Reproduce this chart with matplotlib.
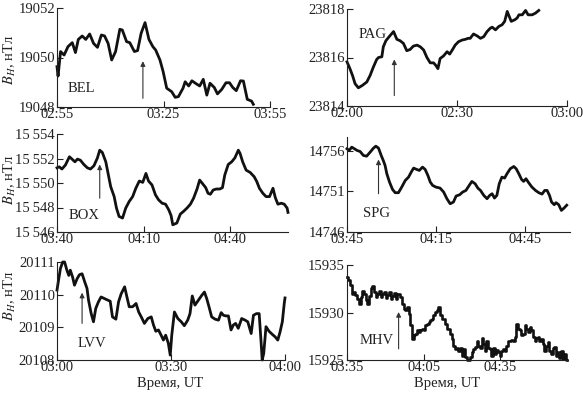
import matplotlib
matplotlib.use('Agg')
import matplotlib.pyplot as plt

plt.rcParams['font.family'] = ['Liberation Serif', 'DejaVu Serif']
plt.rcParams['mathtext.fontset'] = 'stix'

# --- data: minutes from the left edge of each panel, B_H in nT ---
bel_t = [0, 0.3, 1.0, 2.0, 3.1, 4.3, 5.2, 6.0, 7.1, 8.1, 9.2, 10.3, 11.4, 12.5, 13.4, 14.4,
         15.4, 16.5, 17.7, 18.4, 19.6, 20.5, 21.8, 22.7, 23.7, 24.8, 25.9, 27.0, 27.8, 29.0,
         29.9, 30.9, 32.3, 33.3, 34.2, 35.5, 36.1, 37.1, 38.0, 39.3, 40.2, 41.2, 42.2, 43.1,
         44.3, 45.2, 46.4, 47.6, 48.6, 49.5, 50.5, 51.7, 52.5, 53.6, 54.8, 55.3]
bel_v = [19049.63, 19049.25, 19050.24, 19050.10, 19050.44, 19050.60, 19050.20, 19050.73,
         19050.87, 19050.73, 19050.95, 19050.57, 19050.41, 19050.91, 19050.87, 19050.57,
         19049.90, 19050.24, 19051.14, 19051.11, 19050.64, 19050.60, 19050.24, 19050.28,
         19050.98, 19051.41, 19050.73, 19050.44, 19050.30, 19049.90, 19049.43, 19048.76,
         19048.62, 19048.39, 19048.42, 19048.76, 19049.02, 19048.85, 19049.06, 19048.93,
         19048.85, 19049.12, 19048.48, 19048.96, 19048.79, 19048.53, 19048.71, 19048.98,
         19048.98, 19048.79, 19048.66, 19049.06, 19049.05, 19048.31, 19048.24, 19048.11]

pag_t = [0, 0.8, 1.5, 2.2, 3.1, 4.2, 5.4, 6.3, 7.2, 8.1, 8.6, 9.5, 9.9, 10.6, 11.5, 12.7,
         13.6, 14.5, 15.4, 16.3, 17.2, 18.1, 19.1, 20.0, 20.9, 21.8, 22.7, 23.6, 24.2, 24.8,
         25.4, 26.3, 27.3, 28.0, 28.8, 29.5, 30.4, 31.4, 32.3, 33.0, 33.6, 34.5, 35.5, 36.4,
         37.3, 38.2, 39.1, 39.6, 40.5, 41.4, 42.3, 43.0, 43.7, 44.3, 44.8, 45.8, 46.4, 46.9,
         47.8, 48.7, 49.4, 50.5, 51.4, 52.3]
pag_v = [23815.82, 23815.54, 23815.26, 23814.92, 23814.75, 23814.85, 23814.99, 23815.26,
         23815.61, 23815.92, 23816.00, 23816.03, 23816.44, 23816.69, 23816.86, 23817.07,
         23816.75, 23816.69, 23816.58, 23816.28, 23816.33, 23816.47, 23816.51, 23816.44,
         23816.31, 23816.00, 23815.78, 23815.78, 23815.68, 23815.54, 23815.96, 23816.06,
         23816.24, 23816.14, 23816.33, 23816.51, 23816.65, 23816.72, 23816.75, 23816.79,
         23816.79, 23816.97, 23816.89, 23816.79, 23816.86, 23817.07, 23817.21, 23817.25,
         23817.14, 23817.28, 23817.35, 23817.49, 23817.90, 23817.67, 23817.49, 23817.56,
         23817.63, 23817.76, 23817.76, 23817.94, 23817.76, 23817.76, 23817.83, 23817.94]

box_t = [0, 0.8, 1.7, 2.9, 4.3, 5.2, 6.2, 7.1, 8.1, 9.3, 10.5, 11.6, 12.8, 14.0, 14.8, 15.7,
         16.9, 17.8, 18.6, 19.8, 20.6, 21.5, 22.7, 23.8, 25.0, 26.2, 27.3, 28.5, 29.7, 30.8,
         31.7, 32.9, 34.1, 35.2, 36.4, 37.6, 38.7, 39.5, 40.1, 41.5, 42.7, 43.8, 45.0, 46.2,
         47.3, 48.5, 49.4, 50.6, 51.5, 52.3, 53.1, 54.1, 55.2, 56.4, 57.3, 58.1, 59.3, 60.5,
         61.6, 62.8, 63.4, 64.3, 65.5, 66.9, 68.3, 69.2, 70.1, 71.3, 72.4, 73.6, 74.8, 75.6,
         76.5, 77.7, 78.7, 79.7, 80.0]
box_v = [15551.24, 15551.32, 15551.14, 15551.46, 15552.14, 15551.95, 15551.73, 15551.95,
         15551.86, 15551.51, 15551.24, 15551.14, 15551.41, 15552.05, 15552.68, 15552.49,
         15551.73, 15550.65, 15549.70, 15548.89, 15547.95, 15547.27, 15547.14, 15547.95,
         15548.49, 15548.89, 15549.57, 15550.16, 15550.05, 15550.78, 15550.16, 15549.84,
         15549.03, 15548.62, 15548.35, 15548.27, 15547.81, 15547.35, 15546.59, 15546.73,
         15547.46, 15547.68, 15547.95, 15548.27, 15548.76, 15549.51, 15550.24, 15549.89,
         15549.62, 15549.16, 15549.08, 15549.43, 15549.51, 15549.51, 15549.62, 15550.65,
         15551.51, 15551.73, 15552.05, 15552.68, 15552.41, 15551.73, 15551.05, 15550.86,
         15550.51, 15550.11, 15549.57, 15549.16, 15548.89, 15548.89, 15549.57, 15548.81,
         15548.27, 15548.35, 15548.27, 15547.95, 15547.60]

spg_t = [0, 0.7, 1.6, 2.5, 3.4, 4.4, 5.5, 6.6, 7.8, 8.9, 9.7, 10.6, 11.5, 12.2, 12.8, 13.4,
         14.3, 15.3, 16.2, 17.3, 18.4, 19.6, 20.7, 21.6, 22.4, 23.5, 24.3, 25.4, 26.3, 27.2,
         28.0, 28.8, 29.9, 31.3, 32.5, 33.6, 34.7, 35.8, 36.7, 37.9, 38.9, 40.0, 41.1, 42.0,
         43.1, 44.0, 44.9, 46.0, 47.1, 48.0, 48.8, 49.6, 50.4, 51.2, 52.1, 53.0, 53.8, 54.9,
         56.1, 56.9, 57.8, 58.7, 59.4, 60.2, 61.1, 62.2, 63.4, 64.5, 65.6, 66.5, 67.3, 68.1,
         68.8, 69.7, 70.3, 71.2, 72.1, 73.0, 73.9]
spg_v = [14756.25, 14756.04, 14756.45, 14756.25, 14756.04, 14755.92, 14755.43, 14755.34,
         14755.84, 14756.33, 14756.57, 14756.33, 14755.43, 14754.81, 14754.20, 14753.17,
         14752.15, 14751.25, 14750.84, 14750.84, 14751.53, 14752.35, 14752.76, 14753.38,
         14753.87, 14753.70, 14753.58, 14753.99, 14753.70, 14752.97, 14752.15, 14751.74,
         14751.53, 14751.41, 14750.92, 14750.10, 14749.48, 14749.69, 14750.43, 14750.59,
         14750.92, 14751.12, 14751.74, 14752.23, 14751.94, 14751.41, 14751.12, 14750.51,
         14750.10, 14750.51, 14750.71, 14750.18, 14750.51, 14751.94, 14752.76, 14752.64,
         14753.17, 14753.79, 14754.07, 14753.79, 14753.17, 14752.48, 14752.23, 14752.56,
         14752.07, 14751.53, 14751.12, 14750.84, 14750.67, 14751.12, 14751.12, 14750.51,
         14749.69, 14749.36, 14749.61, 14749.36, 14748.66, 14748.95, 14749.30]

lvv_t = [0, 0.4, 0.9, 1.5, 2.0, 2.6, 3.1, 3.5, 4.1, 4.6, 5.3, 5.9, 6.6, 7.3, 7.9, 8.3, 9.0,
         9.6, 10.2, 10.9, 11.6, 12.5, 13.4, 14.0, 14.6, 15.5, 16.2, 16.9, 17.8, 18.4, 19.0,
         19.9, 20.8, 21.5, 22.3, 23.0, 23.9, 24.8, 25.4, 26.0, 26.7, 27.4, 28.0, 28.6, 29.3,
         29.8, 30.2, 30.9, 31.8, 32.7, 33.5, 34.4, 35.0, 35.6, 36.3, 37.2, 38.1, 38.8, 39.4,
         40.0, 40.7, 41.6, 42.5, 43.2, 43.8, 44.4, 45.1, 45.8, 46.4, 47.0, 47.7, 48.6, 49.5,
         50.2, 51.1, 51.7, 52.5, 53.2, 53.7, 54.0, 54.4, 55.0, 55.8, 56.7, 57.4, 58.1, 58.7,
         59.3, 59.8, 60.0]
lvv_v = [20110.14, 20110.44, 20110.80, 20111.00, 20111.00, 20110.75, 20110.59, 20110.75,
         20110.54, 20110.29, 20110.49, 20110.61, 20110.64, 20110.39, 20110.19, 20109.83,
         20109.42, 20109.17, 20109.58, 20109.78, 20109.93, 20109.88, 20109.83, 20109.80,
         20109.32, 20109.25, 20109.78, 20110.03, 20110.24, 20109.93, 20109.63, 20109.63,
         20109.73, 20109.47, 20109.29, 20109.12, 20109.27, 20109.32, 20109.07, 20108.88,
         20108.92, 20108.76, 20108.61, 20108.76, 20108.51, 20108.15, 20108.76, 20109.47,
         20109.27, 20109.17, 20109.05, 20109.22, 20109.42, 20109.96, 20109.68, 20109.83,
         20109.98, 20110.08, 20109.88, 20109.63, 20109.32, 20109.25, 20109.22, 20109.45,
         20109.37, 20109.35, 20109.35, 20108.92, 20109.07, 20109.12, 20108.97, 20109.27,
         20109.22, 20109.17, 20108.81, 20109.37, 20109.42, 20109.42, 20108.56, 20108.00,
         20108.20, 20109.02, 20108.88, 20108.78, 20108.71, 20108.61, 20108.86, 20109.17,
         20109.73, 20109.90]

mhv_t = [0.0, 0.8, 1.6, 2.1, 2.8, 3.8, 4.4, 5.1, 5.7, 6.3, 7.0, 7.6, 8.3, 8.9, 9.6, 10.2,
         10.9, 11.5, 12.2, 12.8, 13.5, 14.1, 14.8, 15.4, 16.1, 16.7, 17.4, 18.0, 18.7, 19.3,
         19.9, 20.6, 21.2, 21.9, 22.5, 23.2, 23.8, 24.5, 25.1, 25.8, 26.4, 27.1, 27.7, 28.4,
         29.0, 29.7, 30.3, 31.0, 31.6, 32.3, 32.9, 33.5, 34.2, 34.8, 35.5, 36.1, 36.8, 37.4,
         38.1, 38.7, 39.4, 40.0, 40.7, 41.3, 42.0, 42.6, 43.3, 43.9, 44.6, 45.2, 45.9, 46.5,
         47.2, 47.8, 48.4, 49.1, 49.7, 50.4, 51.0, 51.7, 52.3, 53.0, 53.6, 54.3, 54.9, 55.6,
         56.2, 56.9, 57.5, 58.2, 58.8, 59.5, 60.1, 60.8, 61.4, 62.0, 62.7, 63.3, 64.0, 64.6,
         65.3, 65.9, 66.6, 67.2, 67.9, 68.5, 69.2, 69.8, 70.5, 71.1, 71.8, 72.4, 73.1, 73.7,
         74.4, 75.0, 75.6, 76.3, 76.9, 77.6, 78.2, 78.9, 79.5, 80.2, 80.8, 81.5, 82.1, 82.8,
         83.4, 84.1, 84.7, 85.4, 86.0]
mhv_v = [15933.76, 15933.41, 15932.88, 15932.00, 15932.17, 15931.82, 15931.47, 15930.94,
         15931.64, 15932.28, 15932.00, 15931.29, 15930.94, 15931.71, 15932.63, 15932.77,
         15932.17, 15931.64, 15932.00, 15932.28, 15931.64, 15932.00, 15932.17, 15931.57,
         15931.82, 15932.17, 15931.47, 15931.71, 15932.07, 15931.47, 15932.00, 15932.00,
         15931.64, 15930.94, 15930.41, 15930.23, 15930.58, 15929.88, 15928.64, 15927.23,
         15927.58, 15927.76, 15928.11, 15927.93, 15928.11, 15928.29, 15928.11, 15928.64,
         15928.82, 15928.99, 15929.24, 15929.35, 15929.70, 15930.05, 15930.23, 15930.58,
         15929.70, 15929.35, 15929.35, 15928.82, 15928.29, 15928.29, 15927.76, 15927.23,
         15926.52, 15926.17, 15926.27, 15925.99, 15926.27, 15925.46, 15926.17, 15925.28,
         15925.00, 15925.00, 15925.28, 15925.81, 15926.17, 15926.41, 15927.05, 15926.52,
         15926.27, 15927.33, 15926.70, 15925.92, 15927.05, 15926.27, 15926.17, 15925.46,
         15926.27, 15925.64, 15926.06, 15925.81, 15925.46, 15925.92, 15926.17, 15925.99,
         15926.52, 15927.05, 15926.98, 15927.12, 15927.05, 15927.40, 15928.82, 15928.29,
         15928.11, 15927.58, 15927.76, 15928.64, 15928.29, 15927.93, 15928.46, 15928.11,
         15927.40, 15927.05, 15927.33, 15927.47, 15926.98, 15927.23, 15926.70, 15925.99,
         15926.52, 15926.87, 15925.99, 15925.64, 15926.27, 15926.41, 15925.46, 15925.81,
         15925.21, 15925.99, 15925.11, 15925.64, 15925.00]

# tick labels
bel_xt = ['02:55', '03:25', '03:55']
pag_xt = ['02:00', '02:30', '03:00']
box_xt = ['03:40', '04:10', '04:40']
spg_xt = ['03:45', '04:15', '04:45']
lvv_xt = ['03:00', '03:30', '04:00']
mhv_xt = ['03:35', '04:05', '04:35']

fig = plt.figure(figsize=(5.83, 3.93), dpi=100)
W, H = 583.0, 393.0
FS = 10.5


def panel(box, t, v, xlim, ylim, xt, yticks, ylabels, name, name_xy, arrow, steps=False):
    x0, y0, x1, y1 = box
    ax = fig.add_axes([x0 / W, 1 - y1 / H, (x1 - x0) / W, (y1 - y0) / H])
    ax.plot(t, v, color='#111111', lw=1.9 if steps else 2.0, solid_joinstyle='round',
            clip_on=False, drawstyle='steps-mid' if steps else 'default')
    ax.set_xlim(*xlim)
    ax.set_ylim(*ylim)
    ax.set_xticks([0, 30, 60])
    ax.set_xticklabels(xt)
    ax.set_yticks(yticks)
    ax.set_yticklabels(ylabels)
    for s in ['top', 'right']:
        ax.spines[s].set_visible(False)
    for s in ['left', 'bottom']:
        ax.spines[s].set_linewidth(0.8)
        ax.spines[s].set_color('#222222')
    ax.tick_params(direction='in', length=4, width=0.8, labelsize=FS, pad=1.5,
                   colors='#222222')
    ax.tick_params(axis='x', pad=1.0)
    ax.text(name_xy[0], name_xy[1], name, fontsize=FS, va='center', ha='left',
            color='#222222')
    ax.annotate('', xy=(arrow[0], arrow[2]), xytext=(arrow[0], arrow[1]),
                arrowprops=dict(arrowstyle='-|>', lw=0.8, color='#333333',
                                mutation_scale=7, shrinkA=0, shrinkB=0))
    return ax


panel((57, 8, 270, 107), bel_t, bel_v, (0, 60), (19048, 19052), bel_xt,
      [19048, 19050, 19052], ['19048', '19050', '19052'],
      'BEL', (3.1, 19048.75), (24.2, 19048.35, 19049.85))
panel((347, 9, 567, 106), pag_t, pag_v, (0, 60), (23814, 23818), pag_xt,
      [23814, 23816, 23818], ['23814', '23816', '23818'],
      'PAG', (3.3, 23816.93), (12.9, 23814.43, 23815.92))
panel((57, 134, 288, 232), box_t, box_v, (0, 80), (15546, 15554), box_xt,
      [15546, 15548, 15550, 15552, 15554],
      ['15\u2009546', '15\u2009548', '15\u2009550', '15\u2009552', '15\u2009554'],
      'BOX', (4.1, 15547.35), (14.8, 15548.76, 15551.51))
panel((347, 137, 570, 232), spg_t, spg_v, (0, 75), (14746, 14757.7), spg_xt,
      [14746, 14751, 14756], ['14746', '14751', '14756'],
      'SPG', (5.5, 14748.25), (10.6, 14750.71, 14754.93))
panel((57, 262, 285, 360), lvv_t, lvv_v, (0, 60), (20108, 20111), lvv_xt,
      [20108, 20109, 20110, 20111], ['20108', '20109', '20110', '20111'],
      'LVV', (5.5, 20108.51), (6.6, 20109.12, 20110.06))
panel((347, 265, 568, 360), mhv_t, mhv_v, (0, 86.5), (15925, 15935), mhv_xt,
      [15925, 15930, 15935], ['15925', '15930', '15935'],
      'MHV', (5.1, 15927.05), (20.2, 15926.17, 15930.05), steps=True)

for yc in [60, 180, 296]:
    fig.text(10 / W, 1 - yc / H, r'$B_H$, нТл', rotation=90, fontsize=FS,
             ha='center', va='center', color='#222222')
for xc in [170, 447]:
    fig.text(xc / W, 1 - 383 / H, 'Время, UT', fontsize=FS, ha='center',
             va='center', color='#222222')

plt.savefig('out.png', dpi=100)
